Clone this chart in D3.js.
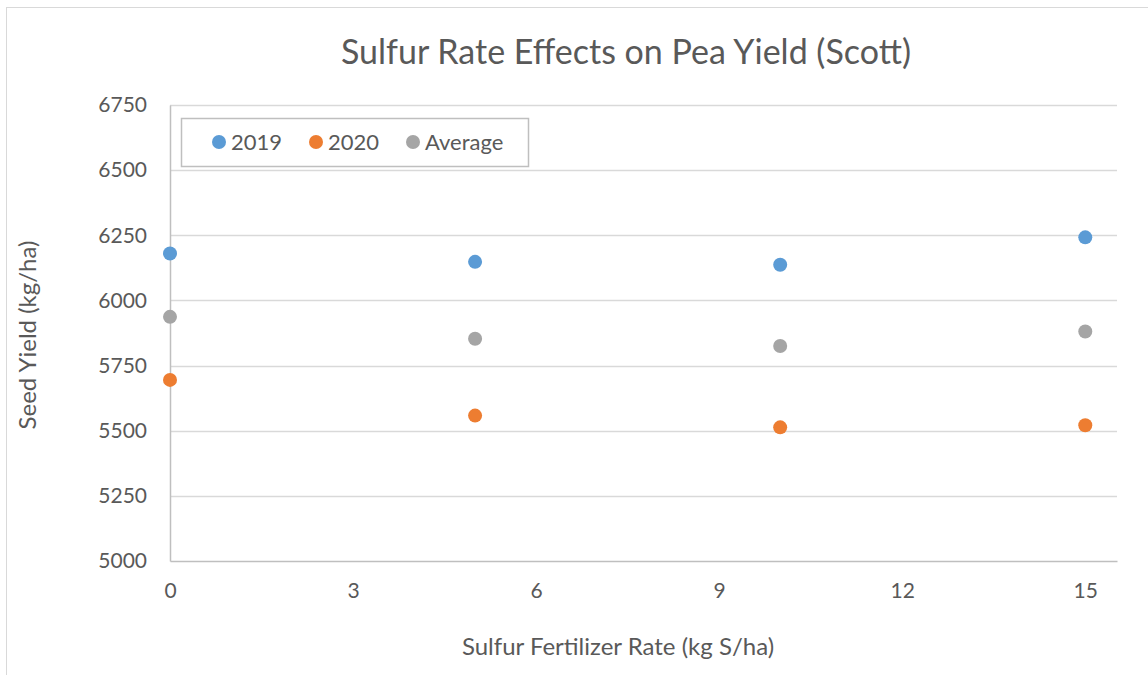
<!DOCTYPE html>
<html>
<head>
<meta charset="utf-8">
<script src="https://cdn.jsdelivr.net/npm/d3@7"></script>
<style>
  body { margin: 0; background: #fff; }
  text { font-family: Lato, "Open Sans", sans-serif; fill: #595959; }
</style>
</head>
<body>
<script>
var rates = [0, 5, 10, 15];
var yield2019 = [6180, 6148, 6137, 6242];
var yield2020 = [5695, 5558, 5513, 5521];
var yieldAvg = [5937, 5853, 5825, 5881];
var xTicks = [0, 3, 6, 9, 12, 15];
var yTicks = [5000, 5250, 5500, 5750, 6000, 6250, 6500, 6750];

var series = [
  {name: "2019", values: yield2019, color: "#5b9bd5"},
  {name: "2020", values: yield2020, color: "#ed7d31"},
  {name: "Average", values: yieldAvg, color: "#a5a5a5"}
];

var W = 1148, H = 675;
var margin = {top: 105, right: 31, bottom: 114, left: 170},
    width = W - margin.left - margin.right,
    height = H - margin.top - margin.bottom;

var root = d3.select("body").append("svg")
    .attr("width", W)
    .attr("height", H);

// chart border
root.append("rect")
    .attr("x", 6.5).attr("y", 7.5)
    .attr("width", W + 20).attr("height", H + 20)
    .attr("fill", "none")
    .attr("stroke", "#d9d9d9");

var svg = root.append("g")
    .attr("transform", "translate(" + margin.left + "," + margin.top + ")");

var x = d3.scaleLinear()
    .domain([0, 15.52])
    .range([0, width]);

var y = d3.scaleLinear()
    .domain([5000, 6750])
    .range([height, 0]);

// gridlines
svg.selectAll(".grid")
    .data(yTicks.slice(1))
    .enter().append("line")
    .attr("x1", 0).attr("x2", width)
    .attr("y1", d => Math.round(y(d)) + 0.5)
    .attr("y2", d => Math.round(y(d)) + 0.5)
    .attr("stroke", "#d9d9d9")
    .attr("stroke-width", 1.5);

// axes
var xAxis = svg.append("g")
    .attr("transform", "translate(0," + height + ")")
    .call(d3.axisBottom(x).tickValues(xTicks).tickSize(0).tickPadding(22));
xAxis.select(".domain").attr("stroke", "#bfbfbf").attr("stroke-width", 1.5);
xAxis.selectAll("text").style("font-size", "21px").attr("fill", "#595959");

var yAxis = svg.append("g")
    .call(d3.axisLeft(y).tickValues(yTicks).tickFormat(d3.format("d")).tickSize(0).tickPadding(23));
yAxis.select(".domain").attr("stroke", "#bfbfbf").attr("stroke-width", 1.5);
yAxis.selectAll("text").style("font-size", "21px").attr("fill", "#595959");

// points
series.forEach(function(s) {
  svg.selectAll(null)
      .data(rates)
      .enter().append("circle")
      .attr("cx", d => x(d))
      .attr("cy", (d, i) => y(s.values[i]))
      .attr("r", 7)
      .attr("fill", s.color);
});

// title
root.append("text")
    .attr("x", 626).attr("y", 64)
    .style("text-anchor", "middle")
    .style("font-size", "34px")
    .text("Sulfur Rate Effects on Pea Yield (Scott)");

// axis titles
root.append("text")
    .attr("x", 618).attr("y", 655)
    .style("text-anchor", "middle")
    .style("font-size", "24px")
    .text("Sulfur Fertilizer Rate (kg S/ha)");

root.append("text")
    .attr("transform", "rotate(-90)")
    .attr("x", -335).attr("y", 36)
    .style("text-anchor", "middle")
    .style("font-size", "24px")
    .text("Seed Yield (kg/ha)");

// legend
var legend = root.append("g").attr("transform", "translate(181,118)");
legend.append("rect")
    .attr("x", 0.5).attr("y", 0.5)
    .attr("width", 347).attr("height", 48)
    .attr("fill", "#fff")
    .attr("stroke", "#bfbfbf")
    .attr("stroke-width", 1.5);
var legendX = [38, 135, 232];
series.forEach(function(s, i) {
  legend.append("circle")
      .attr("cx", legendX[i]).attr("cy", 24)
      .attr("r", 7)
      .attr("fill", s.color);
  legend.append("text")
      .attr("x", legendX[i] + 12).attr("y", 32)
      .style("font-size", "22px")
      .text(s.name);
});
</script>
</body>
</html>
